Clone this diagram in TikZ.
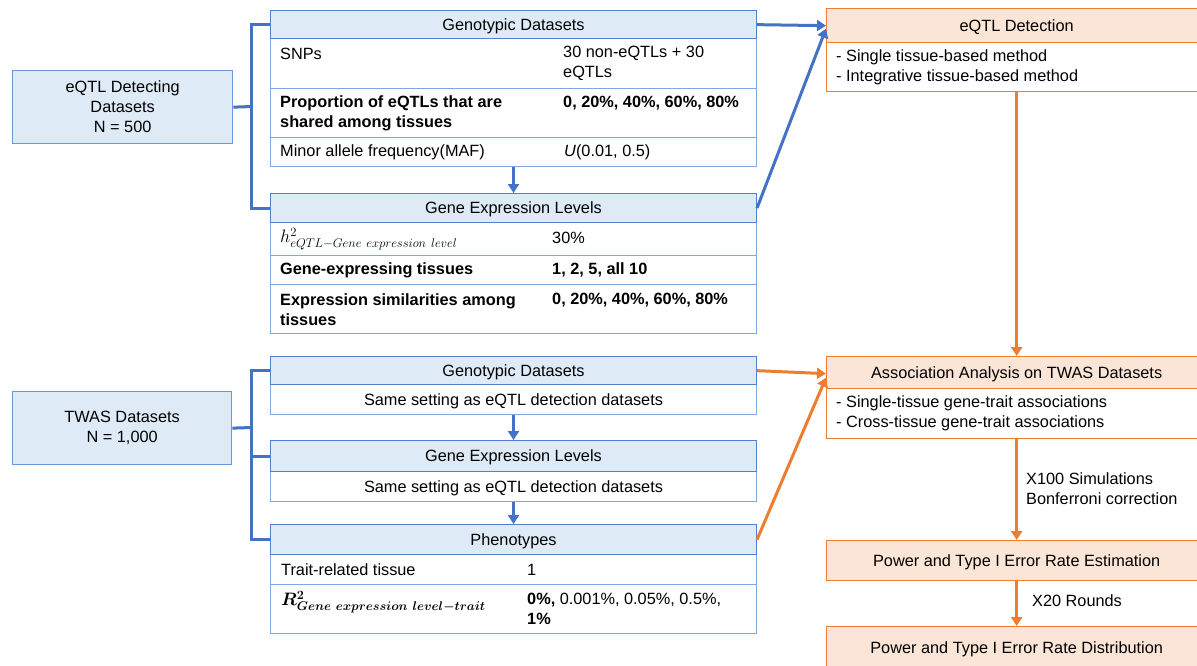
\documentclass[tikz,border=0pt]{standalone}
\usepackage{fix-cm}
\usepackage{amsmath,bm}
\usepackage[no-math]{fontspec}
\setmainfont{Liberation Sans}
\usetikzlibrary{arrows.meta,calc}
\definecolor{bfill}{RGB}{222,235,247}
\definecolor{hborder}{RGB}{84,128,208}
\definecolor{rborder}{RGB}{130,166,226}
\definecolor{dborder}{RGB}{110,150,220}
\definecolor{bline}{RGB}{68,114,196}
\definecolor{oborder}{RGB}{237,125,49}
\definecolor{ofill}{RGB}{251,229,214}
\definecolor{oline}{RGB}{237,125,49}
\tikzset{
  txt/.style={font=\fontsize{16.3}{20}\selectfont, inner sep=0pt, text=black},
  bld/.style={font=\fontsize{16.3}{20}\selectfont\bfseries},
  mth/.style={font=\fontsize{18}{20}\selectfont},
  hdr/.style={txt, draw=hborder, fill=bfill, line width=1.3pt, anchor=north west,
    minimum width=485.7pt, text height=13pt, text depth=1.6pt},
  cell/.style={txt, draw=rborder, fill=white, line width=1.3pt, anchor=north west,
    minimum width=485.7pt, text height=13pt, text depth=1.6pt},
  dsbox/.style={txt, draw=dborder, fill=bfill, line width=1.3pt, anchor=north west, align=center},
  ohdr/.style={txt, draw=oborder, fill=ofill, line width=1.3pt, anchor=north west,
    minimum width=380pt, text height=13pt, text depth=1.6pt},
  obody/.style={txt, draw=oborder, fill=white, line width=1.3pt, anchor=north west,
    minimum width=380pt},
  lbl/.style={txt, anchor=west, align=left},
  bconn/.style={draw=bline, line width=3pt},
  barrow/.style={draw=bline, line width=3pt, -{Triangle[length=9pt,width=11pt]}},
  oarrow/.style={draw=oline, line width=3pt, -{Triangle[length=9pt,width=11pt]}},
}
\begin{document}
\begin{tikzpicture}[x=1pt,y=-1pt]
\useasboundingbox (0,0) rectangle (1197,665);

% ---------- left dataset boxes
\node[dsbox, minimum width=220pt, minimum height=73pt] (d1) at (12,70) {eQTL Detecting\\Datasets\\N = 500};
\node[dsbox, minimum width=219pt, minimum height=73pt] (d2) at (12,391) {TWAS Datasets\\N = 1,000};

% ---------- top genotypic table
\node[cell, minimum height=50pt] (g1r1) at (270,38) {};
\node[cell, minimum height=49pt] (g1r2) at (270,88) {};
\node[cell, minimum height=29pt] (g1r3) at (270,137) {};
\node[hdr, minimum height=28pt] (g1h) at (270,10) {Genotypic Datasets};
\node[lbl] (t1) at (280,54) {SNPs};
\node[lbl] (t2) at (563,63.5) {30 non-eQTLs + 30\\eQTLs};
\node[lbl, bld] (t3) at (280,113.3) {Proportion of eQTLs that are\\shared among tissues};
\node[lbl, bld] (t4) at (563,103.3) {0, 20\%, 40\%, 60\%, 80\%};
\node[lbl] (t5) at (280,152) {Minor allele frequency(MAF)};
\node[lbl] (t6) at (564,152) {\textit{U}(0.01, 0.5)};

% ---------- top gene expression table
\node[cell, minimum height=33pt] (e1r1) at (270,222) {};
\node[cell, minimum height=29pt] (e1r2) at (270,255) {};
\node[cell, minimum height=49pt] (e1r3) at (270,284) {};
\node[hdr, minimum height=29pt] (e1h) at (270,193) {Gene Expression Levels};
\node[lbl, mth] (t7) at (280,239) {$h^{2}_{eQTL-Gene\ expression\ level}$};
\node[lbl] (t8) at (552,237.7) {30\%};
\node[lbl, bld] (t9) at (280,270) {Gene-expressing tissues};
\node[lbl, bld] (t10) at (552,270) {1, 2, 5, all 10};
\node[lbl, bld] (t11) at (280,310) {Expression similarities among\\tissues};
\node[lbl, bld] (t12) at (552,300) {0, 20\%, 40\%, 60\%, 80\%};

% ---------- TWAS tables
\node[cell, minimum height=30pt] (g2b) at (270,384) {Same setting as eQTL detection datasets};
\node[hdr, minimum height=28pt] (g2h) at (270,356) {Genotypic Datasets};
\node[cell, minimum height=30pt] (e2b) at (270,471) {Same setting as eQTL detection datasets};
\node[hdr, minimum height=31pt] (e2h) at (270,440) {Gene Expression Levels};
\node[cell, minimum height=30pt] (p2r1) at (270,554) {};
\node[cell, minimum height=49pt] (p2r2) at (270,584) {};
\node[hdr, minimum height=30pt] (p2h) at (270,524) {Phenotypes};
\node[lbl] (t13) at (281,570) {Trait-related tissue};
\node[lbl] (t14) at (527,570) {1};
\node[lbl, mth] (t15) at (281,602) {$\bm{R^{2}_{Gene\ expression\ level-trait}}$};
\node[lbl] (t16) at (527,609.3) {\textbf{0\%,} 0.001\%, 0.05\%, 0.5\%,\\\textbf{1\%}};

% ---------- right orange boxes
\node[obody, minimum height=49pt] (detb) at (826,42) {};
\node[ohdr, minimum height=34pt] (deth) at (826,8) {eQTL Detection};
\node[lbl] (t17) at (836,67) {- Single tissue-based method\\- Integrative tissue-based method};
\node[obody, minimum height=50pt] (assb) at (826,388) {};
\node[ohdr, minimum height=32pt] (assh) at (826,356) {Association Analysis on TWAS Datasets};
\node[lbl] (t18) at (836,413) {- Single-tissue gene-trait associations\\- Cross-tissue gene-trait associations};
\node[ohdr, minimum height=40pt] (est) at (826,540) {Power and Type I Error Rate Estimation};
\node[ohdr, minimum height=42pt] (dist) at (826,626) {Power and Type I Error Rate Distribution};

% ---------- blue brackets
\coordinate (b1) at (251.5,106.5);
\draw[bconn] (d1.east) -- (b1);
\draw[bconn] (g1h.west) -| (b1) |- (e1h.west);
\coordinate (b2) at (251.5,427.5);
\draw[bconn] (d2.east) -- (b2);
\draw[bconn] (g2h.west) -| (b2) |- (p2h.west);
\draw[bconn] (b2 |- e2h.west) -- (e2h.west);

% ---------- vertical blue arrows
\draw[barrow] (g1r3.south) -- (e1h.north);
\draw[barrow] (g2b.south) -- (e2h.north);
\draw[barrow] (e2b.south) -- (p2h.north);

% ---------- arrows to right column
\draw[barrow] (g1h.east) -- (deth.west);
\draw[barrow] (e1h.east) -- ([yshift=-3pt]deth.west);
\draw[oarrow] (g2h.east) -- ([yshift=-1pt]assh.west);
\draw[oarrow] (p2h.east) -- ([yshift=-5pt]assh.west);

% ---------- orange flow
\draw[oarrow] (detb.south) -- (assh.north);
\draw[oarrow] (assb.south) -- (est.north);
\draw[oarrow] (est.south) -- (dist.north);
\node[lbl] (l1) at (1026,488.3) {X100 Simulations\\Bonferroni correction};
\node[lbl] (l2) at (1032,601) {X20 Rounds};
\end{tikzpicture}
\end{document}
